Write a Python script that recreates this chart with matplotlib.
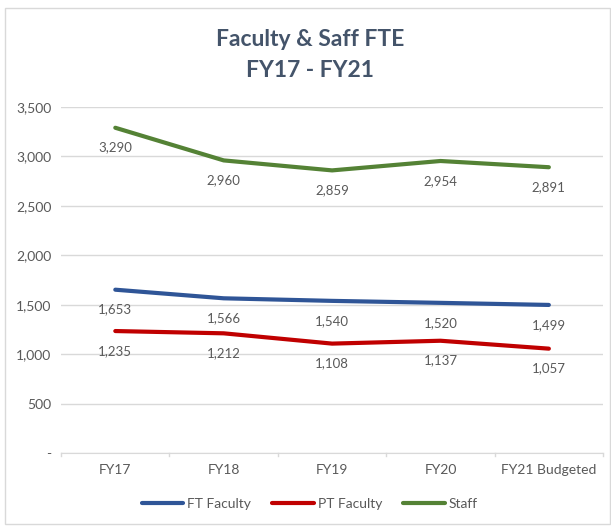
import matplotlib.pyplot as plt
from matplotlib.patches import Rectangle
from matplotlib.ticker import FuncFormatter

# --- Andmed ---
years = ["FY17", "FY18", "FY19", "FY20", "FY21 Budgeted"]
ft_faculty = [1653, 1566, 1540, 1520, 1499]
pt_faculty = [1235, 1212, 1108, 1137, 1057]
staff = [3290, 2960, 2859, 2954, 2891]

plt.rcParams["font.family"] = ["Lato", "DejaVu Sans"]

TXT = "#595959"
GRID = "#D9D9D9"

fig = plt.figure(figsize=(6.11, 5.27), dpi=100)
fig.patches.append(Rectangle((0.008, 0.005), 0.99, 0.98, transform=fig.transFigure,
                             fill=False, ec="#D9D9D9", lw=1))

ax = fig.add_axes([0.10, 0.14, 0.887, 0.657])

x = list(range(len(years)))
series = [
    ("FT Faculty", ft_faculty, "#2F5597"),
    ("PT Faculty", pt_faculty, "#C00000"),
    ("Staff", staff, "#548235"),
]
for name, vals, col in series:
    ax.plot(x, vals, color=col, lw=3, label=name, solid_capstyle="round")
    for xi, v in zip(x, vals):
        ax.annotate(f"{v:,}", (xi, v), xytext=(0, -10), textcoords="offset points",
                    ha="center", va="top", fontsize=9.5, color=TXT)

ax.set_xlim(-0.5, len(years) - 0.5)
ax.set_ylim(0, 3500)
ax.set_yticks(range(0, 3501, 500))
ax.yaxis.set_major_formatter(FuncFormatter(lambda v, p: "-" if v == 0 else f"{int(v):,}"))
ax.set_xticks(x)
ax.set_xticklabels(years)
ax.grid(axis="y", color=GRID, lw=1)
ax.set_axisbelow(True)
for s in ("top", "right", "left"):
    ax.spines[s].set_visible(False)
ax.spines["bottom"].set_color(GRID)
ax.tick_params(axis="y", length=0, labelsize=10, labelcolor=TXT, pad=7)
ax.tick_params(axis="x", length=0, labelsize=10, labelcolor=TXT, pad=8)
# väikesed kategooriate piiride märgid
for b in [i - 0.5 for i in range(len(years) + 1)]:
    ax.plot([b, b], [0, -30], color=GRID, lw=1, clip_on=False)

fig.text(0.507, 0.925, "Faculty & Saff FTE", ha="center", va="center",
         fontsize=16.5, fontweight="bold", color="#44546A")
fig.text(0.507, 0.866, "FY17 - FY21", ha="center", va="center",
         fontsize=16.5, fontweight="bold", color="#44546A")

fig.legend(loc="center", bbox_to_anchor=(0.507, 0.043), ncol=3, frameon=False,
           fontsize=10, labelcolor=TXT, handlelength=3, columnspacing=1.5,
           handletextpad=0.3)

fig.savefig("out.png", dpi=100)
